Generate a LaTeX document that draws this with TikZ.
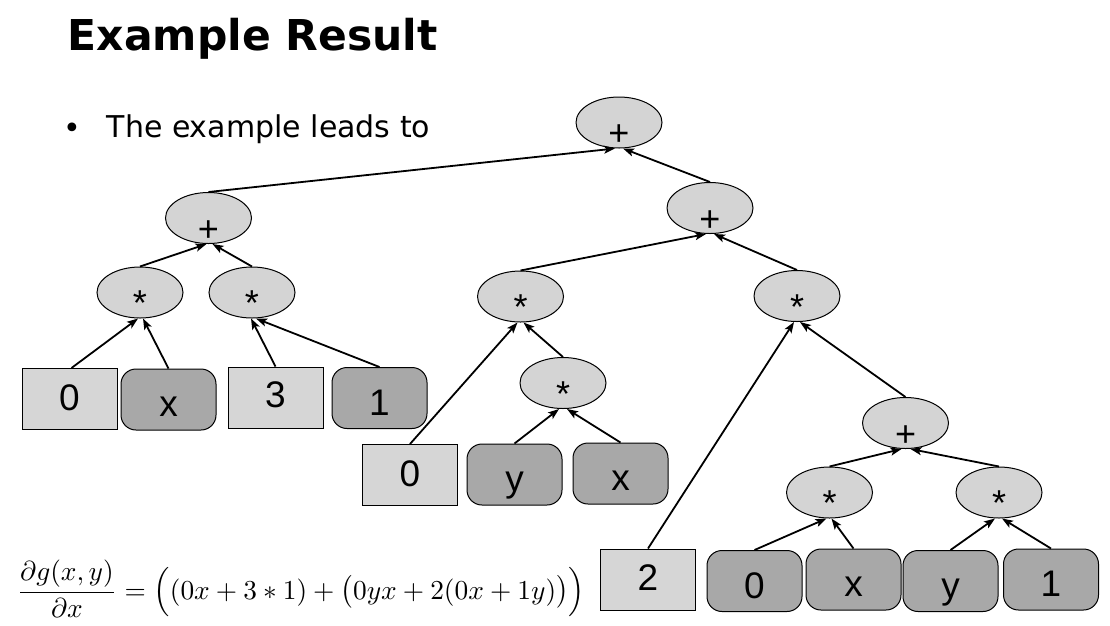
\documentclass[tikz,border=0pt]{standalone}
\usepackage{amsmath}
\usepackage{fontspec}
\usetikzlibrary{shapes.geometric,arrows.meta}
\newfontfamily\vfont{DejaVu Sans}
\newfontfamily\afont{Liberation Sans}
\definecolor{opgray}{RGB}{212,212,212}
\definecolor{boxgray}{RGB}{214,214,214}
\definecolor{vargray}{RGB}{168,168,168}
\newcommand\dn[2]{\raisebox{-#1}[0pt][0pt]{#2}}
\tikzset{
  op/.style={ellipse, draw=black, line width=1pt, fill=opgray, minimum width=86pt, minimum height=51pt, inner sep=0pt, font=\afont\fontsize{36}{36}\selectfont},
  cbox/.style={rectangle, draw=black, line width=1pt, fill=boxgray, minimum width=95pt, minimum height=61pt, inner sep=0pt, font=\afont\fontsize{37}{37}\selectfont},
  vbox/.style={cbox, rounded corners=15pt, fill=vargray},
  link/.style={line width=1.8pt, -{Stealth[length=11pt,width=8pt,inset=2.5pt]}},
}
\begin{document}
\begin{tikzpicture}[x=1pt,y=-1pt]
\useasboundingbox (0,0) rectangle (1110,625);
% title and bullet
\node[anchor=base west, inner sep=0pt, font=\vfont\bfseries\fontsize{42.5}{42.5}\selectfont] (title) at (67.5,50) {Example Result};
\node[anchor=base, inner sep=0pt, font=\vfont\fontsize{30}{30}\selectfont] (bul) at (72,138) {•};
\node[anchor=base west, inner sep=0pt, font=\vfont\fontsize{30}{30}\selectfont] (btext) at (106.5,137) {The example leads to};
% operator nodes
\node[op] (root) at (619,122.5) {\dn{23pt}{+}};
\node[op] (lp) at (208.5,218) {\dn{23pt}{+}};
\node[op] (ma) at (140,292.5) {\dn{23pt}{*}};
\node[op] (mb) at (252,292.5) {\dn{23pt}{*}};
\node[op] (rp) at (710,208) {\dn{23pt}{+}};
\node[op] (m1) at (520.5,296.5) {\dn{23pt}{*}};
\node[op] (m2) at (563,383) {\dn{23pt}{*}};
\node[op] (rs) at (797,296) {\dn{23pt}{*}};
\node[op] (lp2) at (905.5,423) {\dn{23pt}{+}};
\node[op] (s1) at (829.5,492.5) {\dn{23pt}{*}};
\node[op] (s2) at (999,492.5) {\dn{23pt}{*}};
% leaves
\node[cbox] (b0) at (69.5,399) {\dn{11pt}{0}};
\node[vbox] (bx) at (168.5,399.5) {\dn{17pt}{x}};
\node[cbox] (b3) at (275.5,397.5) {\dn{10pt}{3}};
\node[vbox] (b1) at (379.5,398) {\dn{17pt}{1}};
\node[cbox] (c0) at (410,475) {\dn{11pt}{0}};
\node[vbox] (cy) at (514.5,474.5) {\dn{17pt}{y}};
\node[vbox] (cx) at (620.5,473.5) {\dn{17pt}{x}};
\node[cbox] (d2) at (648,579.5) {\dn{11pt}{2}};
\node[vbox] (d0) at (754.5,581) {\dn{17pt}{0}};
\node[vbox] (dx) at (853.5,579.5) {\dn{17pt}{x}};
\node[vbox] (dy) at (950.5,581) {\dn{17pt}{y}};
\node[vbox] (d1) at (1051,579.5) {\dn{17pt}{1}};
% edges
\draw[link] (lp.north) -- ([xshift=-4pt]root.south);
\draw[link] (rp.north) -- ([xshift=4pt]root.south);
\draw[link] (ma.north) -- ([xshift=-2pt]lp.south);
\draw[link] (mb.north) -- ([xshift=4pt]lp.south);
\draw[link] ([xshift=2pt]b0.north) -- ([xshift=-2pt]ma.south);
\draw[link] (bx.north) -- ([xshift=3pt]ma.south);
\draw[link] (b3.north) -- ([xshift=-1pt]mb.south);
\draw[link] (b1.north) -- ([xshift=4pt]mb.south);
\draw[link] (m1.north) -- ([xshift=-4pt]rp.south);
\draw[link] (rs.north) -- ([xshift=4pt]rp.south);
\draw[link] (c0.north) -- ([xshift=-3pt]m1.south);
\draw[link] (m2.north) -- ([xshift=3pt]m1.south);
\draw[link] (cy.north) -- ([xshift=-4pt]m2.south);
\draw[link] (cx.north) -- ([xshift=4pt]m2.south);
\draw[link] (d2.north) -- ([xshift=-3pt]rs.south);
\draw[link] (lp2.north) -- ([xshift=3pt]rs.south);
\draw[link] (s1.north) -- ([xshift=-4pt]lp2.south);
\draw[link] (s2.north) -- ([xshift=5pt]lp2.south);
\draw[link] (d0.north) -- ([xshift=-3pt]s1.south);
\draw[link] (dx.north) -- ([xshift=2pt]s1.south);
\draw[link] (dy.north) -- ([xshift=-4pt]s2.south);
\draw[link] (d1.north) -- ([xshift=3pt]s2.south);
% formula
\node[inner sep=0pt] (formula) at (301,589) {\resizebox{568pt}{!}{$\displaystyle \frac{\partial g(x,y)}{\partial x} = \Bigl((0x+3*1)+\bigl(0yx+2(0x+1y)\bigr)\Bigr)$}};
\end{tikzpicture}
\end{document}
